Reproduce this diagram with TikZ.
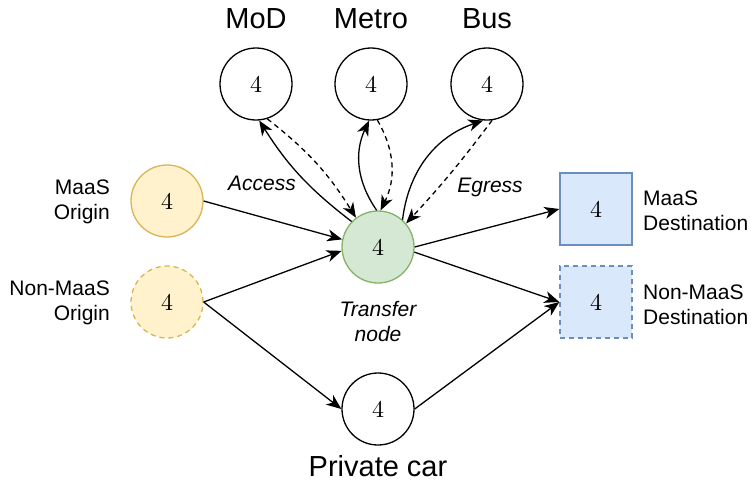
\documentclass[tikz,border=0pt]{standalone}
\usepackage{fontspec}
\newfontfamily\lsans{Liberation Sans}
\newfontfamily\numf{lmroman10-regular.otf}
\usetikzlibrary{arrows.meta}
\definecolor{yfill}{HTML}{FFF2CC}
\definecolor{ydraw}{HTML}{D6B656}
\definecolor{gfill}{HTML}{D5E8D4}
\definecolor{gdraw}{HTML}{82B366}
\definecolor{bfill}{HTML}{DAE8FC}
\definecolor{bdraw}{HTML}{6C8EBF}
\tikzset{
  base/.style={minimum size=72pt, inner sep=0pt, line width=1.3pt,
    font=\numf\fontsize{24}{24}\selectfont},
  circ/.style={base, circle, draw=black},
  yorig/.style={base, circle, draw=ydraw, fill=yfill},
  transfer/.style={base, circle, draw=gdraw, fill=gfill},
  dest/.style={base, rectangle, draw=bdraw, fill=bfill},
  dsh/.style={dash pattern=on 5pt off 4pt},
  lab/.style={font=\lsans\fontsize{21}{25}\selectfont, inner sep=0pt},
  ilab/.style={font=\lsans\itshape\fontsize{21}{25}\selectfont, inner sep=0pt, align=center},
  big/.style={font=\lsans\fontsize{29}{29}\selectfont, inner sep=0pt},
  edge/.style={line width=1.3pt, -{Stealth[length=15pt,width=12pt,inset=4.5pt]}},
}
\begin{document}
\begin{tikzpicture}[x=1pt,y=-1pt]
\useasboundingbox (0,0) rectangle (751,488);
% nodes
\node[circ] (mod) at (256,84) {4};
\node[circ] (metro) at (371,84) {4};
\node[circ] (bus) at (487,84) {4};
\node[yorig] (mo) at (167,201) {4};
\node[yorig, dsh] (nmo) at (167,302) {4};
\node[transfer] (tr) at (378,247) {4};
\node[circ] (pc) at (378,409) {4};
\node[dest] (md) at (596,209) {4};
\node[dest, dsh] (nmd) at (596,302) {4};
% labels
\node[big, anchor=base] (lmod) at (256,28) {MoD};
\node[big, anchor=base] (lmetro) at (371,28) {Metro};
\node[big, anchor=base] (lbus) at (487,28) {Bus};
\node[big, anchor=base] (lpc) at (378,476) {Private car};
\node[lab, anchor=east, align=right] (lmo) at (110,202) {MaaS\\Origin};
\node[lab, anchor=east, align=right] (lnmo) at (110,303) {Non-MaaS\\Origin};
\node[lab, anchor=west, align=left] (lmd) at (643,211) {MaaS\\Destination};
\node[lab, anchor=west, align=left] (lnmd) at (643,305) {Non-MaaS\\Destination};
\node[ilab] (lacc) at (262,183) {Access};
\node[ilab] (legr) at (490,187) {Egress};
\node[ilab] (ltr) at (378,321) {Transfer\\node};
% edges
\draw[edge] (mo.east) -- (tr.168);
\draw[edge] (nmo.east) -- (tr.186);
\draw[edge] (nmo.east) -- (pc.west);
\draw[edge] (tr.east) -- (md.west);
\draw[edge] (tr.-8) -- (nmd.west);
\draw[edge] (pc.east) -- (nmd.west);
% access / egress
\draw[edge] (tr.136) to[bend left=10] (mod.-85);
\draw[edge, dsh] (mod.-72) to[bend left=10] (tr.127);
\draw[edge] (tr.92) to[bend left=30] (metro.-93);
\draw[edge, dsh] (metro.-80) to[bend left=28] (tr.86);
\draw[edge] (tr.48) to[bend left=32] (bus.-96);
\draw[edge, dsh] (bus.-82) to[bend left=3] (tr.40);
\end{tikzpicture}
\end{document}
